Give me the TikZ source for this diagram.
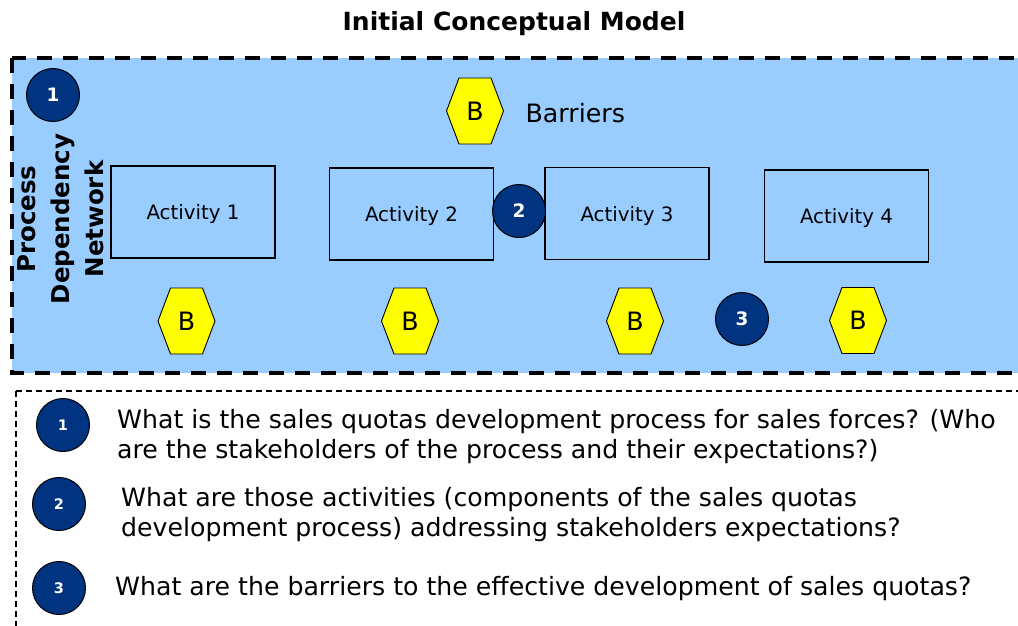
\documentclass[tikz,border=0pt]{standalone}
\usepackage{fontspec}
\setmainfont{DejaVu Sans}
\definecolor{skyfill}{HTML}{99CCFF}
\definecolor{navy}{HTML}{003380}
\definecolor{hexyellow}{HTML}{FFFF00}

\begin{document}
\begin{tikzpicture}[x=1pt,y=-1pt,
  act/.style={draw,line width=1.3pt,minimum width=164pt,minimum height=92pt,text depth=0pt,font=\fontsize{19.8}{23}\selectfont},
  num/.style={circle,draw,line width=1pt,fill=navy,text=white,minimum size=53pt,inner sep=0pt,font=\bfseries\fontsize{18.5}{20}\selectfont},
  qnum/.style={num,font=\bfseries\fontsize{14.5}{16}\selectfont},
  btext/.style={font=\fontsize{25.3}{28}\selectfont},
  qtext/.style={anchor=north west,align=left,inner sep=0pt,font=\fontsize{25.2}{30.5}\selectfont}]
\useasboundingbox (0,0) rectangle (1018,625);
\clip (0,0) rectangle (1018,625);
\node[font=\bfseries\fontsize{25}{28}\selectfont] (title) at (514,24) {Initial Conceptual Model};
% panels
\draw[fill=skyfill,line width=4pt,dash pattern=on 15pt off 11pt] (12,58) rectangle (1030,373);
\draw[line width=1.4pt,dash pattern=on 6pt off 4pt] (16,391) rectangle (1030,640);
% activities
\node[act] (a1) at (193,212) {Activity 1};
\node[act] (a2) at (411.5,214) {Activity 2};
\node[act] (a3) at (627,213.5) {Activity 3};
\node[act] (a4) at (846.5,216) {Activity 4};
% barriers
\foreach \n/\x/\y in {b0/475/111,b1/186.5/321,b2/410/321,b3/635/321,b4/858/320.5}{
  \draw[fill=hexyellow,line width=0.9pt] (\x,\y) ++(-28.5,0) -- ++(12.5,-33) -- ++(32,0) -- ++(12.5,33) -- ++(-12.5,33) -- ++(-32,0) -- cycle;
  \node[btext] (\n) at (\x,\y) {B};
}
\node[btext,anchor=west] (bar) at (522,113) {Barriers};
\node[rotate=90,align=center,font=\bfseries\fontsize{24.5}{34}\selectfont] (pdn) at (61,219) {Process\\Dependency\\Network};
% numbers
\node[num] (n1) at (53,95) {1};
\node[num] (n2) at (519,211) {2};
\node[num] (n3) at (742,319) {3};
% questions
\node[qnum] (q1) at (63,425) {1};
\node[qnum] (q2) at (59,504) {2};
\node[qnum] (q3) at (59,588) {3};
\node[qtext] (t1) at (117,409) {What is the sales quotas development process for sales forces? (Who\\are the stakeholders of the process and their expectations?)};
\node[qtext] (t2) at (121,487) {What are those activities (components of the sales quotas\\development process) addressing stakeholders expectations?};
\node[qtext] (t3) at (115,576) {What are the barriers to the effective development of sales quotas?};
\end{tikzpicture}
\end{document}
